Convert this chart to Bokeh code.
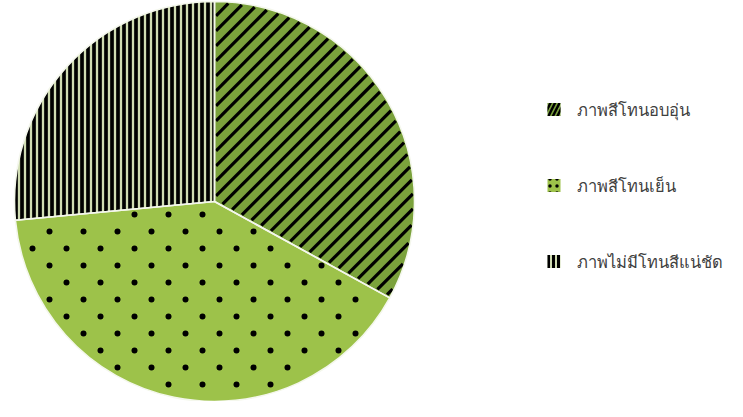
import math
from bokeh.plotting import figure
from bokeh.models import ColumnDataSource, Range1d
from bokeh.core.properties import value
from bokeh.embed import file_html
from bokeh.resources import INLINE

labels = ["ภาพสีโทนอบอุ่น", "ภาพสีโทนเย็น", "ภาพไม่มีโทนสีแน่ชัด"]
shares = [33.0, 40.5, 26.5]
fills = ["#7ba23c", "#9dc24a", "#d0dcb2"]

total = sum(shares)
starts, ends = [], []
cum = 0.0
for s in shares:
    starts.append(math.pi / 2 - 2 * math.pi * cum / total)
    cum += s
    ends.append(math.pi / 2 - 2 * math.pi * cum / total)

W, H = 727, 401
p = figure(width=W, height=H, output_backend="svg", toolbar_location=None,
           x_range=Range1d(0, W), y_range=Range1d(0, H), min_border=0)
p.axis.visible = False
p.grid.visible = False
p.outline_line_color = None
p.background_fill_color = "white"

cx, cy, r = 214, 200, 200

# slice fills (slice 3 with built-in vertical hatch)
for i in range(3):
    src = ColumnDataSource(dict(x=[cx], y=[cy], start=[starts[i]], end=[ends[i]]))
    kw = {}
    if i == 2:
        kw = dict(hatch_pattern="|", hatch_color="black", hatch_scale=6, hatch_weight=3.7)
    p.wedge(x="x", y="y", radius=r, start_angle="start", end_angle="end",
            direction="clock", source=src, fill_color=fills[i], line_color=None, **kw)


def cross(a, b):
    return a[0] * b[1] - a[1] * b[0]


def sector_edges(i):
    us = (math.cos(starts[i]), math.sin(starts[i]))
    ue = (math.cos(ends[i]), math.sin(ends[i]))
    return us, ue


# slice 1: 45-degree stripe texture clipped to the slice
us, ue = sector_edges(0)
d = (1 / math.sqrt(2), 1 / math.sqrt(2))
n = (-1 / math.sqrt(2), 1 / math.sqrt(2))
gap = 15 / math.sqrt(2)
x0s, y0s, x1s, y1s = [], [], [], []
rr = r - 1.5
k = -int(rr / gap) - 1
while k * gap < rr:
    s_off = k * gap + 3
    k += 1
    if abs(s_off) >= rr:
        continue
    h = math.sqrt(rr * rr - s_off * s_off)
    lo, hi = -h, h
    for (a_s, a_t) in [(s_off * cross(ue, n), cross(ue, d)), (-s_off * cross(us, n), -cross(us, d))]:
        if abs(a_t) < 1e-9:
            if a_s < 1.5:
                lo, hi = 1, 0
            continue
        tb = (1.5 - a_s) / a_t
        if a_t > 0:
            lo = max(lo, tb)
        else:
            hi = min(hi, tb)
    if hi > lo:
        px, py = cx + s_off * n[0], cy + s_off * n[1]
        x0s.append(px + lo * d[0]); y0s.append(py + lo * d[1])
        x1s.append(px + hi * d[0]); y1s.append(py + hi * d[1])
p.segment(x0=x0s, y0=y0s, x1=x1s, y1=y1s, line_color="black", line_width=3.2)

# slice 2: staggered dot texture clipped to the slice
us, ue = sector_edges(1)
dx_, dy_ = [], []
for m in range(-8, 9):
    for q in range(-14, 15):
        vx = 34 * m + 17 * (q % 2) + 5
        vy = 17 * q + 4
        if vx * vx + vy * vy > (r - 5) ** 2:
            continue
        v = (vx, vy)
        if cross(ue, v) >= 4 and cross(v, us) >= 4:
            dx_.append(cx + vx); dy_.append(cy + vy)
p.scatter(x=dx_, y=dy_, marker="circle", size=6, fill_color="black", line_color=None)

# light slice outlines on top
for i in range(3):
    src = ColumnDataSource(dict(x=[cx], y=[cy], start=[starts[i]], end=[ends[i]]))
    p.wedge(x="x", y="y", radius=r, start_angle="start", end_angle="end",
            direction="clock", source=src, fill_color=None, line_color="#f4f7ec", line_width=1.6)

# legend
leg_hatch = ["/", ".", "|"]
leg_scale = [9, 7, 5]
leg_weight = [2.5, 1.2, 3.0]
lg_x, lg_top, lg_pitch, box = 553.5, 292, 76, 13
for i in range(3):
    ly = lg_top - i * lg_pitch
    p.rect(x=[lg_x], y=[ly], width=box, height=box, width_units="screen", height_units="screen",
           fill_color=fills[i], line_color=None,
           hatch_pattern=leg_hatch[i], hatch_color="black",
           hatch_scale=leg_scale[i], hatch_weight=leg_weight[i])
    p.text(x=[lg_x + 22.5], y=[ly], text=[labels[i]], text_baseline="middle", text_align="left",
           text_font=value("Noto Sans"), text_font_size="16.5px", text_color="#404040")

open("out.html", "w").write(file_html(p, INLINE))
